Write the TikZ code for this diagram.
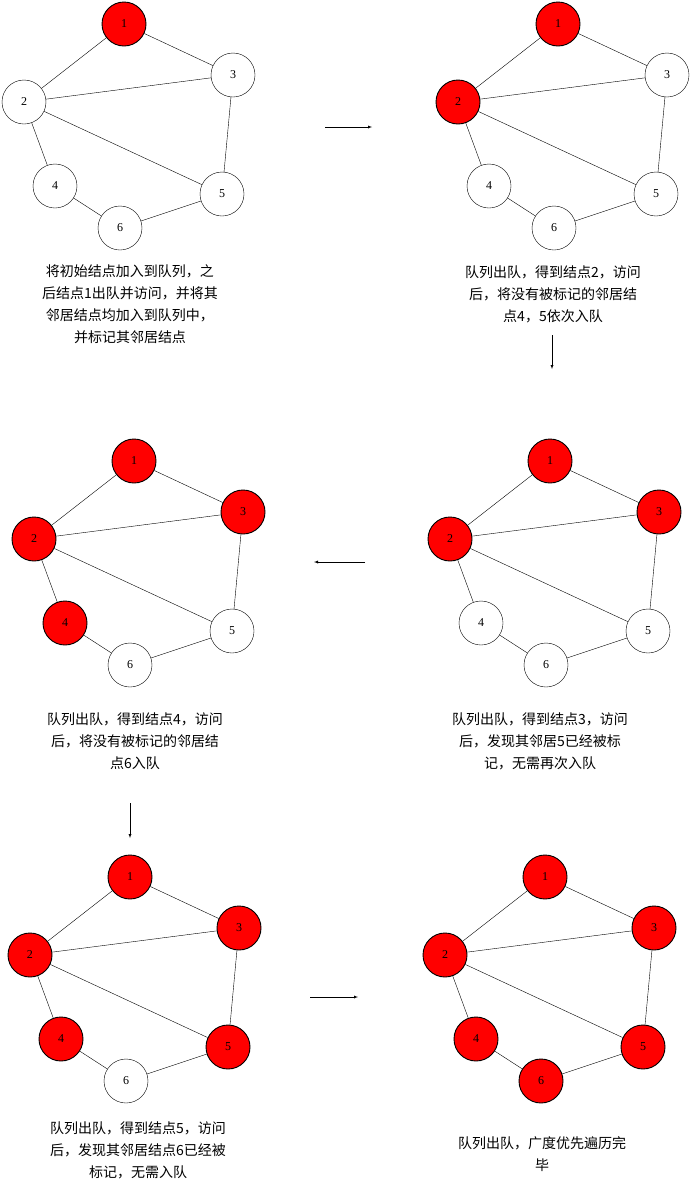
\documentclass[tikz,border=0pt]{standalone}
\usepackage{fontspec}
\setmainfont{Liberation Serif}
\newfontfamily\cjk{Noto Sans CJK SC}
\begin{document}
\begin{tikzpicture}[x=1pt,y=-1pt,
  vtx/.style={circle,draw,minimum size=44pt,inner sep=0pt,font=\fontsize{12}{12}\selectfont},
  hot/.style={fill=red,line width=0.9pt},
  capt/.style={align=center,font=\cjk\fontsize{14}{22}\selectfont,inner sep=0pt},
  arr/.style={-latex}]
\useasboundingbox (0,0) rectangle (692,1184);
\newcommand\drawgraph[9]{%
  \node[vtx,#4] (#1a) at (#2,#3) {1};
  \node[vtx,#5] (#1b) at (#2-100,#3+78) {2};
  \node[vtx,#6] (#1c) at (#2+109,#3+51) {3};
  \node[vtx,#7] (#1d) at (#2-69,#3+162) {4};
  \node[vtx,#8] (#1e) at (#2+98,#3+170) {5};
  \node[vtx,#9] (#1f) at (#2-4,#3+204) {6};
  \draw (#1a)--(#1b) (#1a)--(#1c) (#1b)--(#1c) (#1b)--(#1d) (#1b)--(#1e) (#1c)--(#1e) (#1d)--(#1f) (#1f)--(#1e);}
\drawgraph{p}{124}{24}{hot}{}{}{}{}{}
\drawgraph{q}{558}{24}{hot}{hot}{}{}{}{}
\drawgraph{r}{134}{461}{hot}{hot}{hot}{hot}{}{}
\drawgraph{s}{550}{461}{hot}{hot}{hot}{}{}{}
\drawgraph{t}{130}{877}{hot}{hot}{hot}{hot}{hot}{}
\drawgraph{u}{545}{877}{hot}{hot}{hot}{hot}{hot}{hot}
\node[capt] (c1) at (130,304) {将初始结点加入到队列，之\\后结点1出队并访问，并将其\\邻居结点均加入到队列中，\\并标记其邻居结点};
\node[capt] (c2) at (553,294) {队列出队，得到结点2，访问\\后，将没有被标记的邻居结\\点4，5依次入队};
\node[capt] (c3) at (135,741) {队列出队，得到结点4，访问\\后，将没有被标记的邻居结\\点6入队};
\node[capt] (c4) at (540,741) {队列出队，得到结点3，访问\\后，发现其邻居5已经被标\\记，无需再次入队};
\node[capt] (c5) at (138,1150) {队列出队，得到结点5，访问\\后，发现其邻居结点6已经被\\标记，无需入队};
\node[capt] (c6) at (542,1154) {队列出队，广度优先遍历完\\毕};
\coordinate (a1) at (325,127); \coordinate (a2) at (372,127);
\coordinate (b1) at (552,335); \coordinate (b2) at (552,369);
\coordinate (d1) at (365,562); \coordinate (d2) at (314,562);
\coordinate (e1) at (130,803); \coordinate (e2) at (130,838);
\coordinate (f1) at (310,997); \coordinate (f2) at (358,997);
\draw[arr] (a1)--(a2); \draw[arr] (b1)--(b2); \draw[arr] (d1)--(d2);
\draw[arr] (e1)--(e2); \draw[arr] (f1)--(f2);
\end{tikzpicture}
\end{document}
